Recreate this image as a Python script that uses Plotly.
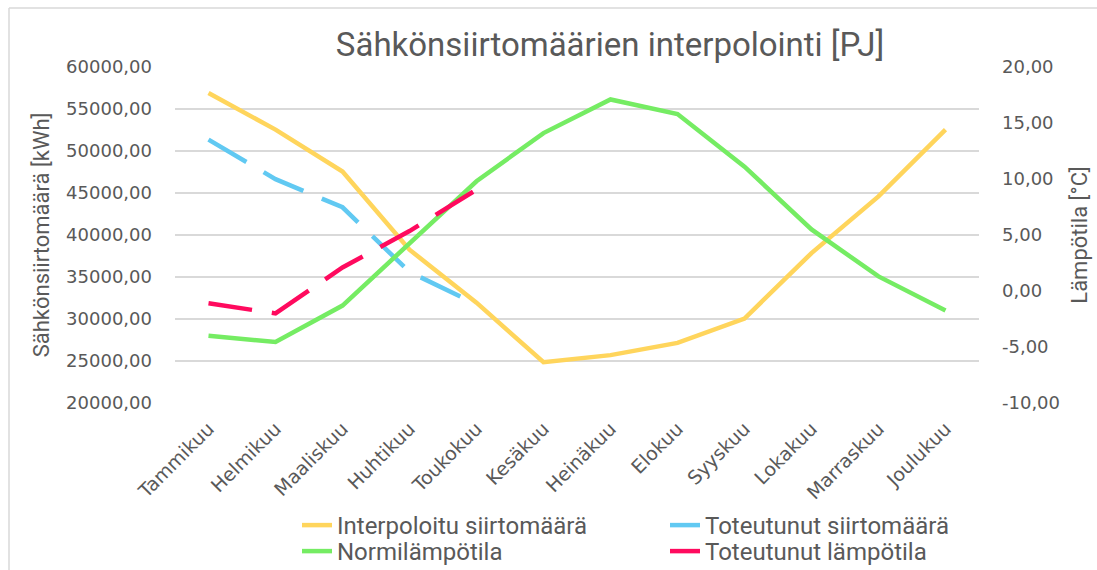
import plotly.graph_objects as go

months = ["Tammikuu", "Helmikuu", "Maaliskuu", "Huhtikuu", "Toukokuu", "Kesäkuu",
          "Heinäkuu", "Elokuu", "Syyskuu", "Lokakuu", "Marraskuu", "Joulukuu"]

interpoloitu = [56900, 52550, 47550, 38250, 31950, 24850, 25700, 27150, 30050, 37850, 44600, 52550]
toteutunut_siirto = [51350, 46650, 43300, 35600, 31750]
normilampotila = [-4.0, -4.55, -1.3, 4.2, 9.8, 14.1, 17.1, 15.8, 11.1, 5.5, 1.3, -1.75]
toteutunut_lampo = [-1.1, -2.0, 2.1, 5.35, 9.05]

left_tickvals = [20000, 25000, 30000, 35000, 40000, 45000, 50000, 55000, 60000]
left_ticktext = ["20000,00", "25000,00", "30000,00", "35000,00", "40000,00",
                 "45000,00", "50000,00", "55000,00", "60000,00"]
right_tickvals = [-10, -5, 0, 5, 10, 15, 20]
right_ticktext = ["-10,00", "-5,00", "0,00", "5,00", "10,00", "15,00", "20,00"]

c_yellow = "#FFD55C"
c_blue = "#61C9F2"
c_green = "#75EC63"
c_red = "#FF0A5E"
txt = "#595959"
grid = "#D9D9D9"

tick_font = dict(family="DejaVu Sans", size=18, color=txt)
xtick_font = dict(family="DejaVu Sans", size=19, color=txt)
lab_font = dict(family="Roboto", size=22, color=txt)
leg_font = dict(family="Roboto", size=24, color=txt)

fig = go.Figure()
fig.add_trace(go.Scatter(x=months, y=interpoloitu, name="Interpoloitu siirtomäärä",
                         mode="lines", line=dict(color=c_yellow, width=4.5), yaxis="y",
                         legend="legend"))
fig.add_trace(go.Scatter(x=months[:len(toteutunut_siirto)], y=toteutunut_siirto,
                         name="Toteutunut siirtomäärä", mode="lines",
                         line=dict(color=c_blue, width=4.5, dash="44px,20px"), yaxis="y",
                         legend="legend"))
fig.add_trace(go.Scatter(x=months, y=normilampotila, name="Normilämpötila",
                         mode="lines", line=dict(color=c_green, width=4.5), yaxis="y2",
                         legend="legend2"))
fig.add_trace(go.Scatter(x=months[:len(toteutunut_lampo)], y=toteutunut_lampo,
                         name="Toteutunut lämpötila", mode="lines",
                         line=dict(color=c_red, width=4.5, dash="44px,20px"), yaxis="y2",
                         legend="legend2"))

leg_common = dict(orientation="h", xanchor="left", yanchor="top", entrywidth=323,
                  font=leg_font, bgcolor="rgba(0,0,0,0)", x=(297 - 175) / 804)

fig.update_layout(
    width=1097, height=570,
    margin=dict(l=175, r=118, t=67, b=167, autoexpand=False),
    paper_bgcolor="white", plot_bgcolor="white",
    title=dict(text="Sähkönsiirtomäärien interpolointi [PJ]", x=610 / 1097,
               xanchor="center", y=1 - 44 / 570, yanchor="middle",
               font=dict(family="Roboto", size=33, color=txt)),
    xaxis=dict(type="category", range=[-0.5, 11.5], showgrid=False, showline=False,
               zeroline=False, tickangle=-45, tickfont=xtick_font, ticks="",
               ticklabelstandoff=10, automargin=False),
    yaxis=dict(range=[20000, 60000], tickvals=left_tickvals, ticktext=left_ticktext,
               showgrid=True, gridcolor=grid, gridwidth=1.5, zeroline=False, showline=False,
               tickfont=tick_font, ticklabelstandoff=22, automargin=False,
               title=dict(text="Sähkönsiirtomäärä [kWh]", font=lab_font, standoff=10)),
    yaxis2=dict(range=[-10, 20], tickvals=right_tickvals, ticktext=right_ticktext,
                overlaying="y", side="right", showgrid=False, zeroline=False, showline=False,
                tickfont=tick_font, ticklabelstandoff=22, automargin=False,
                title=dict(text="Lämpötila [°C]", font=lab_font, standoff=12)),
    legend=dict(leg_common, y=(403 - 503) / 336),
    legend2=dict(leg_common, y=(403 - 529) / 336),
    showlegend=True,
    shapes=[
        dict(type="line", xref="paper", yref="paper", x0=(9 - 175) / 804, x1=(1097 - 175) / 804,
             y0=(403 - 8) / 336, y1=(403 - 8) / 336, line=dict(color=grid, width=1.5)),
        dict(type="line", xref="paper", yref="paper", x0=(9 - 175) / 804, x1=(9 - 175) / 804,
             y0=(403 - 8) / 336, y1=(403 - 570) / 336, line=dict(color=grid, width=1.5)),
    ],
)

fig.write_html("out.html", config={"displayModeBar": False},
               post_script="document.body.style.margin='0';document.body.style.overflow='hidden';")
